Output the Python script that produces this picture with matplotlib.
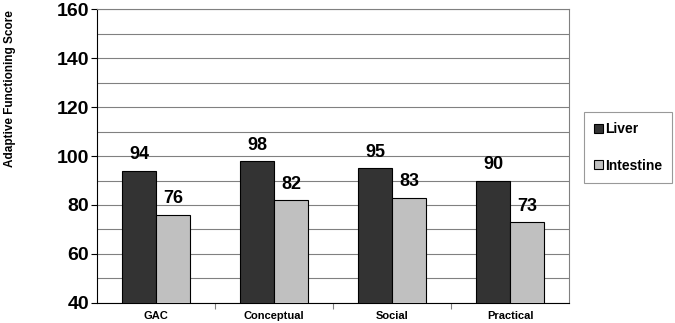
import matplotlib
matplotlib.use("Agg")
import matplotlib.pyplot as plt
import numpy as np

categories = ["GAC", "Conceptual", "Social", "Practical"]
liver = [94, 98, 95, 90]
intestine = [76, 82, 83, 73]
series_names = ["Liver", "Intestine"]

plt.rcParams['font.family'] = ['Liberation Sans', 'DejaVu Sans']

fig = plt.figure(figsize=(6.75, 3.23), dpi=100)
ax = fig.add_axes([0.1437, 0.062, 0.6993, 0.910])

x = np.arange(len(categories))
w = 0.288
b1 = ax.bar(x - w/2, liver, w, color="#333333", edgecolor="black", linewidth=0.8,
            label=series_names[0], zorder=3)
b2 = ax.bar(x + w/2, intestine, w, color="#c0c0c0", edgecolor="black", linewidth=0.8,
            label=series_names[1], zorder=3)

for rects, vals in ((b1, liver), (b2, intestine)):
    for r, v in zip(rects, vals):
        ax.text(r.get_x() + r.get_width()/2, v + 3, f"{v}", ha="center", va="bottom",
                fontsize=13, fontweight="bold")

ax.set_ylim(40, 160)
ax.set_xlim(-0.5, len(categories) - 0.5)
ax.set_yticks(np.arange(40, 161, 20))
ax.set_yticks(np.arange(40, 161, 10), minor=True)
ax.yaxis.grid(True, which="both", color="#808080", linewidth=0.8, zorder=0)
ax.tick_params(axis="y", which="major", labelsize=14, length=4, width=0.8, pad=1.5)
ax.tick_params(axis="y", which="minor", length=0)
for lbl in ax.get_yticklabels():
    lbl.set_fontweight("bold")

ax.set_xticks(x)
ax.set_xticklabels(categories, fontsize=8, fontweight="bold")
ax.tick_params(axis="x", which="major", length=0, pad=6)
ax.set_xticks(np.arange(0.5, len(categories) - 0.5, 1), minor=True)
ax.tick_params(axis="x", which="minor", length=4, width=0.8, color="#808080")

for s in ax.spines.values():
    s.set_linewidth(0.8)
for s in ("top", "right"):
    ax.spines[s].set_color("#808080")

fig.text(0.015, 0.725, "Adaptive Functioning Score", rotation=90, ha="center", va="center",
         fontsize=8.5, fontweight="bold")

leg = fig.legend(loc="upper left", bbox_to_anchor=(0.865, 0.653), frameon=True,
                 fancybox=False, edgecolor="#808080", prop={"weight": "bold", "size": 10},
                 handlelength=0.6, handleheight=0.6, handletextpad=0.15,
                 labelspacing=1.6, borderpad=0.75, borderaxespad=0)
leg.get_frame().set_linewidth(0.8)

fig.savefig("out.png", dpi=100)
